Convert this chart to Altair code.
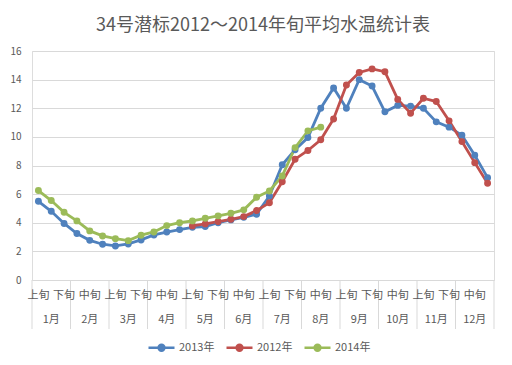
import altair as alt
import pandas as pd

dekads = ["上旬", "中旬", "下旬"]
months = ["1月", "2月", "3月", "4月", "5月", "6月", "7月", "8月", "9月", "10月", "11月", "12月"]
series_names = ["2013年", "2012年", "2014年"]
colors = ["#4F81BD", "#C0504D", "#9BBB59"]

v2013 = [5.5, 4.8, 3.95, 3.25, 2.77, 2.5, 2.38, 2.52, 2.8, 3.15, 3.35, 3.52,
         3.68, 3.73, 4.0, 4.2, 4.38, 4.6, 5.87, 8.05, 9.1, 9.95, 12.0, 13.42,
         12.0, 14.0, 13.55, 11.75, 12.2, 12.15, 12.0, 11.05, 10.68, 10.12, 8.72, 7.15]
v2012_start = 12
v2012 = [3.78, 3.92, 4.08, 4.24, 4.43, 4.85, 5.4, 6.87, 8.44, 9.05, 9.8, 11.25,
         13.62, 14.5, 14.75, 14.55, 12.62, 11.65, 12.7, 12.47, 11.12, 9.67, 8.2, 6.76]
v2014 = [6.25, 5.55, 4.73, 4.13, 3.43, 3.08, 2.89, 2.75, 3.13, 3.36, 3.8, 4.0,
         4.13, 4.31, 4.48, 4.66, 4.9, 5.78, 6.22, 7.27, 9.25, 10.42, 10.68]

rows = []
for i, v in enumerate(v2013):
    rows.append({"series": "2013年", "pos": i + 0.5, "value": v, "order": 0})
for j, v in enumerate(v2012):
    rows.append({"series": "2012年", "pos": v2012_start + j + 0.5, "value": v, "order": 1})
for i, v in enumerate(v2014):
    rows.append({"series": "2014年", "pos": i + 0.5, "value": v, "order": 2})
df = pd.DataFrame(rows)

W, H = 462, 229
FONT = "Noto Sans CJK SC"
TXT = "#595959"
GRID = "#D9D9D9"

xscale = alt.Scale(domain=[0, 36])
yscale = alt.Scale(domain=[0, 16])

sym_path = ("M-1,0H1"
            "M0.1,0A0.1,0.1,0,1,1,-0.1,0A0.1,0.1,0,1,1,0.1,0"
            "M0.22,0A0.22,0.22,0,1,1,-0.22,0A0.22,0.22,0,1,1,0.22,0")

color = alt.Color(
    "series:N",
    scale=alt.Scale(domain=series_names, range=colors),
    legend=alt.Legend(
        title=None, orient="none", direction="horizontal",
        legendX=115, legendY=282,
        symbolType=sym_path, symbolSize=676, symbolStrokeWidth=2.6,
        labelFont=FONT, labelFontSize=11, labelColor=TXT,
        labelOffset=3, columnPadding=6,
    ),
)

base = alt.Chart(df)
lines = base.mark_line(strokeWidth=2.8, point=alt.OverlayMarkDef(size=48, filled=True, opacity=1)).encode(
    x=alt.X("pos:Q", scale=xscale, axis=None),
    y=alt.Y("value:Q", scale=yscale,
            axis=alt.Axis(values=list(range(0, 17, 2)), grid=True, gridColor=GRID,
                          domain=False, ticks=False, labelPadding=11,
                          labelFont=FONT, labelFontSize=10, labelColor=TXT, title=None)),
    color=color,
    order=alt.Order("order:Q"),
    detail="series:N",
)

# category axis pieces
dek_rows = [{"pos": i + 0.5, "label": dekads[i % 3]} for i in range(36) if i % 2 == 0]
mon_rows = [{"pos": m * 3 + 1.5, "label": months[m]} for m in range(12)]
sep_rows = [{"pos": m * 3} for m in range(13)]

seps = alt.Chart(pd.DataFrame(sep_rows)).mark_rule(color=GRID, strokeWidth=1).encode(
    x=alt.X("pos:Q", scale=xscale, axis=None),
    y=alt.value(H), y2=alt.value(H + 49),
)
dek_text = alt.Chart(pd.DataFrame(dek_rows)).mark_text(
    font=FONT, fontSize=11, color=TXT, baseline="middle", align="center"
).encode(x=alt.X("pos:Q", scale=xscale, axis=None), y=alt.value(H + 16), text="label:N")
mon_text = alt.Chart(pd.DataFrame(mon_rows)).mark_text(
    font=FONT, fontSize=11, color=TXT, baseline="middle", align="center"
).encode(x=alt.X("pos:Q", scale=xscale, axis=None), y=alt.value(H + 40), text="label:N")

chart = alt.layer(seps, dek_text, mon_text, lines).properties(
    width=W, height=H,
    title=alt.TitleParams("34号潜标2012～2014年旬平均水温统计表", font=FONT, fontSize=18,
                          fontWeight="normal", color=TXT, anchor="middle", offset=11),
    autosize=alt.AutoSizeParams(type="none"),
    padding={"left": 24, "top": 43, "right": 10, "bottom": 80},
).configure_view(stroke=None).configure(background="white")

chart.save("out.html", embed_options={"renderer": "svg", "actions": False})
